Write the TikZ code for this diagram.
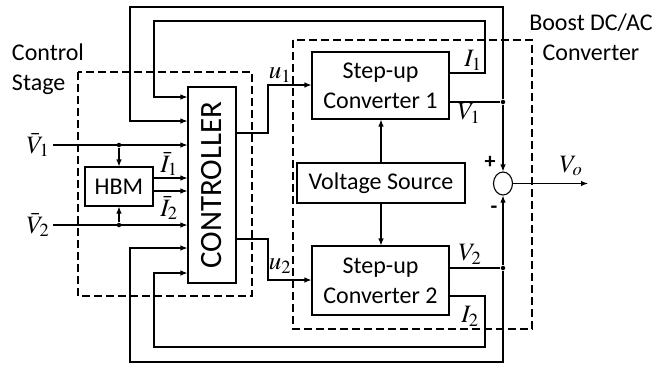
\documentclass[tikz,border=0pt]{standalone}
\usepackage{mathptmx}
\usepackage{fontspec}
\setmainfont{Carlito}
\usetikzlibrary{positioning, shapes.geometric, arrows.meta}

\begin{document}
\begin{tikzpicture}[
    x=1pt, y=-1pt,
    font=\fontsize{24}{30}\selectfont,
    every node/.style={align=center},
    line width=1.1pt,
    block/.style={draw, inner sep=0pt},
    frame/.style={draw, line width=2.3pt, dash pattern=on 8pt off 4pt},
    sig/.style={draw, -{Latex[length=7pt,width=5.5pt]}},
    lbl/.style={font=\fontsize{25}{27}\selectfont, inner sep=0pt},
    dot/.style={circle, fill, inner sep=0pt, minimum size=4.5pt},
  ]
  \useasboundingbox (0,0) rectangle (653,365);

  % blocks
  \node[block, minimum width=48pt, minimum height=196pt] (ctrl) at (212,185) {};
  \node[rotate=90, font=\fontsize{31}{34}\selectfont] at (ctrl) {CONTROLLER};
  \node[block, minimum width=68pt, minimum height=39pt] (hbm) at (119,186.5) {HBM};
  \node[block, minimum width=137pt, minimum height=67pt] (conv1) at (380.5,85.5) {Step-up\\Converter 1};
  \node[block, minimum width=137pt, minimum height=69pt] (conv2) at (380.5,280.5) {Step-up\\Converter 2};
  \node[block, minimum width=168pt, minimum height=40pt] (vs) at (381,183) {Voltage Source};
  \node[draw, ellipse, inner sep=0pt, minimum width=19pt, minimum height=23pt] (sum) at (503,183.5) {};

  % stage frames
  \draw[frame] (78,72) rectangle (252,296);
  \draw[frame] (293,40) rectangle (532,329);
  \node[align=left] (cs) at (48,69) {Control\\Stage};
  \node (bc) at (591,37) {Boost DC/AC\\Converter};

  % inputs and HBM
  \node[lbl, inner sep=3pt] (v1) at (38,145) {$\bar{V}_1$};
  \node[lbl, inner sep=3pt] (v2) at (38,225) {$\bar{V}_2$};
  \draw[sig] (v1.east) -- (v1.east -| ctrl.west);
  \draw[sig] (v2.east) -- (v2.east -| ctrl.west);
  \node[dot] (b1) at (v1.east -| hbm.north) {};
  \node[dot] (b2) at (v2.east -| hbm.south) {};
  \draw[sig] (b1) -- (hbm.north);
  \draw[sig] (b2) -- (hbm.south);
  \draw[sig] (hbm.east |- 0,178) -- (ctrl.west |- 0,178);
  \draw[sig] (hbm.east |- 0,191) -- (ctrl.west |- 0,191);
  \node[lbl] (i1b) at (169,164) {$\bar{I}_1$};
  \node[lbl] (i2b) at (169,208) {$\bar{I}_2$};

  % control signals
  \draw[sig] (ctrl.east |- 0,133) -| (268,85) -- (conv1.west |- 0,85);
  \draw[sig] (ctrl.east |- 0,239) -| (268,280) -- (conv2.west |- 0,280);
  \node[lbl] (u1) at (280,75) {$u_1$};
  \node[lbl] (u2) at (280,266) {$u_2$};

  % voltage source
  \draw[sig] (vs.north) -- (vs.north |- conv1.south);
  \draw[sig] (vs.south) -- (vs.south |- conv2.north);

  % outputs and feedback
  \node[dot] (j1) at (503,102) {};
  \node[dot] (j2) at (503,268) {};
  \draw (conv1.east |- j1) -- (j1);
  \draw (conv2.east |- j2) -- (j2);
  \draw[sig] (j1) -- (sum.north);
  \draw[sig] (j2) -- (sum.south);
  \draw[sig] (j1) -- (503,7) -| (130,121) -- (ctrl.west |- 0,121);
  \draw[sig] (j2) -- (503,362) -| (130,248) -- (ctrl.west |- 0,248);
  \draw[sig] (conv1.east |- 0,73) -| (485,21) -| (154,97) -- (ctrl.west |- 0,97);
  \draw[sig] (conv2.east |- 0,296) -| (485,347) -| (154,273) -- (ctrl.west |- 0,273);
  \node[lbl] (lv1) at (469,113) {$V_1$};
  \node[lbl] (li1) at (473,60) {$I_1$};
  \node[lbl] (lv2) at (470,254) {$V_2$};
  \node[lbl] (li2) at (470,316) {$I_2$};
  \node[font=\fontsize{22}{24}\selectfont\bfseries] (plus) at (490,162) {+};
  \node[font=\fontsize{22}{24}\selectfont\bfseries] (minus) at (494,210) {-};

  \coordinate (vo) at (588,183.5);
  \draw[sig] (sum.east) -- (vo);
  \node[lbl] (lvo) at (571,166) {$V_o$};
\end{tikzpicture}
\end{document}
